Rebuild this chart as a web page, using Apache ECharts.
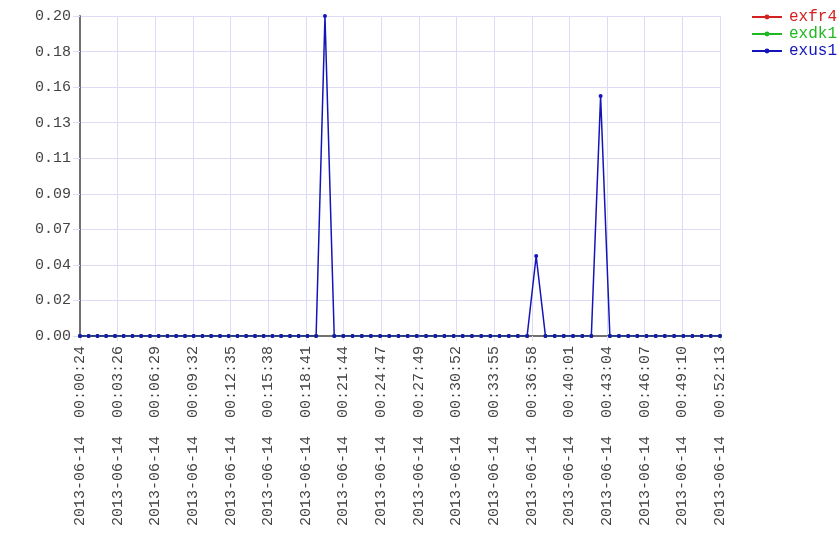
<!DOCTYPE html>
<html>
<head>
<meta charset="utf-8">
<script src="https://cdn.jsdelivr.net/npm/echarts@6/dist/echarts.min.js"></script>
<style>html,body{margin:0;padding:0;background:#fff}#c{width:840px;height:560px}</style>
</head>
<body>
<div id="c"></div>
<script>
const DATE = "2013-06-14";
const times = [
 "00:00:24","00:01:06","00:01:49","00:02:31","00:03:14","00:03:56","00:04:39","00:05:21","00:06:04","00:06:46",
 "00:07:29","00:08:11","00:08:54","00:09:36","00:10:19","00:11:01","00:11:44","00:12:26","00:13:09","00:13:51",
 "00:14:34","00:15:16","00:15:59","00:16:41","00:17:24","00:18:06","00:18:49","00:19:31","00:20:14","00:20:59",
 "00:21:43","00:22:28","00:23:13","00:23:57","00:24:42","00:25:26","00:26:11","00:26:56","00:27:40","00:28:25",
 "00:29:10","00:29:54","00:30:39","00:31:23","00:32:08","00:32:53","00:33:37","00:34:22","00:35:07","00:35:51",
 "00:36:36","00:37:20","00:38:05","00:38:50","00:39:34","00:40:19","00:41:04","00:41:48","00:42:33","00:43:18",
 "00:44:02","00:44:47","00:45:31","00:46:16","00:47:01","00:47:45","00:48:30","00:49:15","00:49:59","00:50:44",
 "00:51:28","00:52:13"
];
const exfr4 = [
 0,0,0,0,0,0,0,0,0,0, 0,0,0,0,0,0,0,0,0,0, 0,0,0,0,0,0,0,0,null,0,
 0,0,0,0,0,0,0,0,0,0, 0,0,0,0,0,0,0,0,0,0, 0,null,0,0,0,0,0,0,null,0,
 0,0,0,0,0,0,0,0,0,0, 0,0
];
const exdk1 = [
 0,0,0,0,0,0,0,0,0,0, 0,0,0,0,0,0,0,0,0,0, 0,0,0,0,0,0,0,0,null,0,
 0,0,0,0,0,0,0,0,0,0, 0,0,0,0,0,0,0,0,0,0, 0,null,0,0,0,0,0,0,null,0,
 0,0,0,0,0,0,0,0,0,0, 0,0
];
const exus1 = [
 0,0,0,0,0,0,0,0,0,0, 0,0,0,0,0,0,0,0,0,0, 0,0,0,0,0,0,0,0,0.20,0,
 0,0,0,0,0,0,0,0,0,0, 0,0,0,0,0,0,0,0,0,0, 0,0.05,0,0,0,0,0,0,0.15,0,
 0,0,0,0,0,0,0,0,0,0, 0,0
];
const seriesNames = ["exfr4","exdk1","exus1"];
const seriesColors = ["#d42020","#20b820","#1414b8"];
const xStart = "00:00:24", xEnd = "00:52:13";
const xTickCount = 17;
const yMax = 0.20, yTickCount = 9;

function toSec(s){const p=s.split(':').map(Number);return p[0]*3600+p[1]*60+p[2];}
const t0 = toSec(xStart), t1 = toSec(xEnd);
// axis unit = 1/xTickCount second, offset from start, so the tick interval is an integer
const toX = s => (toSec(s)-t0)*xTickCount;
const pad = n => String(n).padStart(2,'0');
function fmtX(v){
  const sec = Math.floor((t0*xTickCount + Math.round(v))/xTickCount);
  const h=Math.floor(sec/3600), m=Math.floor(sec%3600/60), s=sec%60;
  return DATE+"  "+pad(h)+":"+pad(m)+":"+pad(s);
}
const FONT = "'Liberation Mono', 'Courier New', monospace";
const chart = echarts.init(document.getElementById('c'), null, {renderer:'canvas'});
const all = [exfr4, exdk1, exus1];
chart.setOption({
  animation:false,
  grid:{left:80,right:120,top:16,bottom:224,containLabel:false},
  legend:{
    orient:'vertical', left:746, top:4, itemWidth:30, itemHeight:6, itemGap:1,
    textStyle:{fontFamily:FONT,fontSize:16,padding:[0,0,0,2]},
    data:seriesNames.map((n,i)=>({name:n,textStyle:{color:seriesColors[i]}}))
  },
  xAxis:{
    type:'value', min:0, max:(t1-t0)*xTickCount, interval:(t1-t0),
    axisLine:{lineStyle:{color:'#707070',width:2}},
    axisTick:{show:true,length:5,lineStyle:{color:'#dcdcf6'}},
    splitLine:{show:true,lineStyle:{color:'#dcdcf6',width:1}},
    axisLabel:{rotate:90,margin:10,fontFamily:FONT,fontSize:15,color:'#444',formatter:fmtX,showMinLabel:true,showMaxLabel:true}
  },
  yAxis:{
    type:'value', min:0, max:yMax, interval:yMax/yTickCount,
    axisLine:{show:true,lineStyle:{color:'#707070',width:2}},
    axisTick:{show:true,length:7,lineStyle:{color:'#dcdcf6'}},
    splitLine:{show:true,lineStyle:{color:'#dcdcf6',width:1}},
    axisLabel:{margin:9,fontFamily:FONT,fontSize:15,color:'#444',formatter:v=>v.toFixed(2)}
  },
  series:seriesNames.map((n,i)=>({
    name:n, type:'line', color:seriesColors[i],
    symbol:'circle', symbolSize:4, showSymbol:true, connectNulls:false,
    lineStyle:{width:1.5,color:seriesColors[i]},
    itemStyle:{color:seriesColors[i]},
    data:times.map((t,j)=>[toX(t), all[i][j]])
  }))
});
</script>
</body>
</html>
